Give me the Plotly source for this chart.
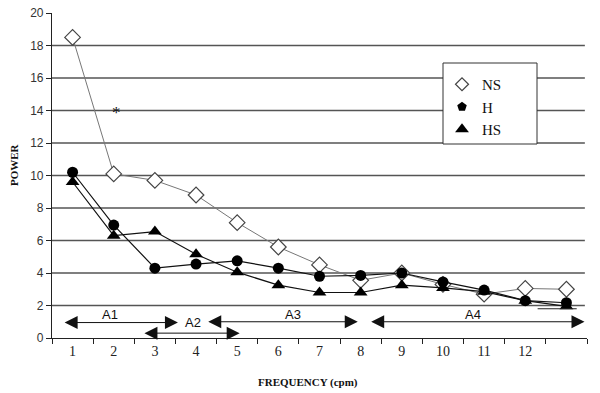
import plotly.graph_objects as go

# ---- data ----
freq = list(range(1, 14))
tick_vals = list(range(1, 13))
tick_labels = [str(i) for i in range(1, 13)]
ns = [18.5, 10.1, 9.7, 8.8, 7.1, 5.6, 4.5, 3.55, 4.0, 3.3, 2.7, 3.05, 3.0]
h = [10.2, 6.95, 4.3, 4.55, 4.75, 4.3, 3.8, 3.85, 4.0, 3.45, 2.95, 2.3, 2.17]
hs = [9.6, 6.3, 6.55, 5.15, 4.05, 3.25, 2.8, 2.8, 3.25, 3.08, 2.85, 2.3, 1.95]
grid_vals = [2, 4, 6, 8, 10, 12, 14, 16, 18]

# band arrows
bands = ["A1", "A2", "A3", "A4"]
band_start = [0.77, 2.71, 4.26, 8.22]
band_end = [3.56, 5.06, 7.93, 13.44]
band_y = [0.95, 0.3, 1.0, 1.0]
label_x = [1.9, 3.92, 6.35, 10.72]
label_y = [1.45, 0.95, 1.45, 1.45]

serif = "Liberation Serif"
sans = "Liberation Sans"

PL, PR, PT, PB = 52, 587, 13, 338  # plot area in window pixels
W, H = 600, 393
PW, PH = PR - PL, PB - PT


def px_x(p):
    return (p - PL) / PW


def px_y(p):
    return (PB - p) / PH


fig = go.Figure()

fig.add_trace(go.Scatter(
    x=freq, y=ns, mode="lines+markers", name="NS", showlegend=False,
    line=dict(color="#777777", width=1),
    marker=dict(symbol="diamond", size=12, color="white",
                line=dict(color="#444444", width=1.2)),
))
fig.add_trace(go.Scatter(
    x=freq, y=h, mode="lines+markers", name="H", showlegend=False,
    line=dict(color="#111111", width=1.2),
    marker=dict(symbol="circle", size=11, color="black"),
))
fig.add_trace(go.Scatter(
    x=freq, y=hs, mode="lines+markers", name="HS", showlegend=False,
    line=dict(color="#111111", width=1.2),
    marker=dict(symbol="triangle-up", size=12, color="black"),
))

# legend entries (markers only)
fig.add_trace(go.Scatter(x=[None], y=[None], mode="markers", name="NS",
                         marker=dict(symbol="diamond", size=10, color="white",
                                     line=dict(color="#444444", width=1.2))))
fig.add_trace(go.Scatter(x=[None], y=[None], mode="markers", name="H",
                         marker=dict(symbol="pentagon", size=10, color="black")))
fig.add_trace(go.Scatter(x=[None], y=[None], mode="markers", name="HS",
                         marker=dict(symbol="triangle-up", size=12, color="black")))

shapes = []
for g in grid_vals:
    shapes.append(dict(type="line", xref="paper", yref="y", x0=0, x1=0.996,
                       y0=g, y1=g, line=dict(color="#555555", width=1.4),
                       layer="below"))
# legend box
shapes.append(dict(type="rect", xref="paper", yref="paper",
                   x0=px_x(443), x1=px_x(537), y0=px_y(144), y1=px_y(63),
                   fillcolor="white", line=dict(color="#333333", width=1),
                   layer="above"))
# small stray line near the last point
shapes.append(dict(type="line", xref="x", yref="y", x0=12.3, x1=13.25,
                   y0=1.8, y1=1.8, line=dict(color="#222222", width=1.2)))

annotations = []
for lab, xs, xe, ay, lx, ly in zip(bands, band_start, band_end, band_y, label_x, label_y):
    annotations.append(dict(x=xe, y=ay, ax=xs, ay=ay, xref="x", yref="y",
                            axref="x", ayref="y", text="", showarrow=True,
                            arrowhead=2, arrowside="end+start", arrowsize=2.6,
                            arrowwidth=1, arrowcolor="#111111"))
    annotations.append(dict(x=lx, y=ly, xref="x", yref="y", text=lab,
                            showarrow=False,
                            font=dict(family=sans, size=13, color="#111111")))
annotations.append(dict(x=2.06, y=13.85, xref="x", yref="y", text="*",
                        showarrow=False,
                        font=dict(family=serif, size=17, color="#111111")))
annotations.append(dict(xref="paper", yref="paper", x=px_x(14), y=px_y(165),
                        xanchor="center", yanchor="middle",
                        text="<b>POWER</b>", showarrow=False, textangle=-90,
                        font=dict(family=serif, size=11, color="#111111")))
annotations.append(dict(xref="paper", yref="paper", x=px_x(308), y=px_y(382),
                        xanchor="center", yanchor="middle",
                        text="<b>FREQUENCY (cpm)</b>", showarrow=False,
                        font=dict(family=serif, size=11, color="#111111")))

fig.update_layout(
    width=W, height=H,
    margin=dict(l=PL, r=W - PR, t=PT, b=H - PB, autoexpand=False),
    paper_bgcolor="white", plot_bgcolor="white",
    shapes=shapes, annotations=annotations,
    showlegend=True,
    legend=dict(x=px_x(442), y=px_y(68), xanchor="left", yanchor="top",
                bgcolor="rgba(0,0,0,0)", borderwidth=0,
                font=dict(family=serif, size=15, color="#111111")),
    xaxis=dict(range=[0.5, 13.5], tickvals=tick_vals, ticktext=tick_labels,
               ticks="", showgrid=False, zeroline=False, automargin=False,
               showline=True, linecolor="#222222", linewidth=1.2,
               tickfont=dict(family=serif, size=14, color="#222222"),
               minor=dict(ticks="outside", tickvals=[i + 0.5 for i in range(14)],
                          ticklen=5, tickcolor="#222222", tickwidth=1, showgrid=False),
               fixedrange=True),
    yaxis=dict(range=[0, 20], tickvals=list(range(0, 21, 2)), showgrid=False,
               zeroline=False, showline=True, linecolor="#222222", linewidth=1.2,
               ticks="outside", ticklen=5, tickcolor="#222222", automargin=False,
               ticklabeloverflow="allow",
               tickfont=dict(family=sans, size=12, color="#333333"),
               fixedrange=True),
)

# remove the browser's default 8px body margin so the figure sits at the window origin
fig.write_html("out.html", config={"displayModeBar": False},
               post_script="document.body.style.margin='0';")
